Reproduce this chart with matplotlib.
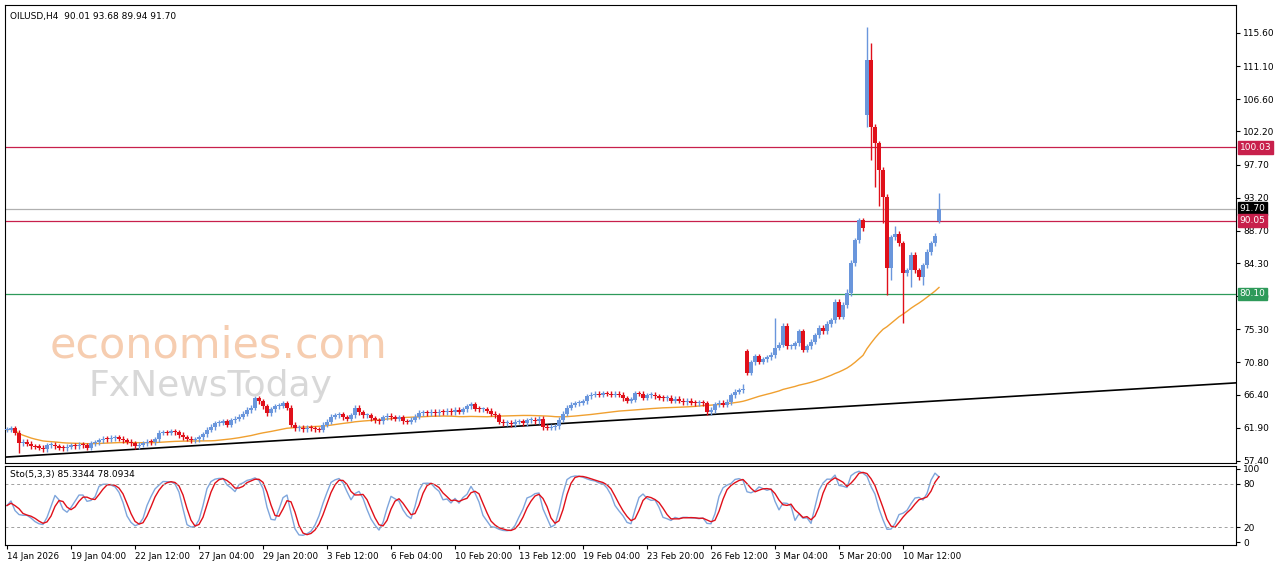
import matplotlib
matplotlib.use("Agg")
import matplotlib.pyplot as plt
import numpy as np
import pandas as pd

closes = [61.6,61.8,61.2,59.8,60.0,59.7,59.4,59.3,59.2,59.0,59.5,59.6,59.4,59.2,59.1,59.3,59.5,59.4,59.6,59.5,
59.2,59.8,59.9,60.2,60.4,60.3,60.5,60.6,60.4,60.2,60.0,59.8,59.4,59.6,59.8,60.0,59.9,60.3,61.2,61.3,
61.2,61.4,61.3,60.9,60.6,60.4,60.2,60.3,60.6,61.0,61.6,62.0,62.5,62.6,62.8,62.3,62.9,63.1,63.4,63.8,
64.3,64.6,65.9,65.5,64.8,63.9,64.4,64.8,64.9,65.2,64.6,62.3,61.8,61.9,61.7,61.9,61.8,61.7,61.6,62.3,
62.7,63.4,63.6,63.7,63.3,63.1,63.6,64.6,64.0,63.6,63.6,63.2,62.9,62.8,63.3,63.5,63.3,63.1,63.3,62.8,
62.7,63.0,63.4,63.9,64.0,63.9,64.1,63.9,64.1,64.0,64.2,64.0,64.3,64.1,64.4,64.8,65.1,64.5,64.4,64.4,
64.2,63.8,63.6,62.7,62.5,62.6,62.4,62.7,62.8,62.5,62.9,63.0,62.8,63.1,62.0,61.9,62.0,62.1,63.0,63.8,
64.6,65.0,65.2,65.3,65.5,66.2,66.4,66.5,66.4,66.6,66.5,66.4,66.5,66.4,65.9,65.6,65.7,66.6,66.5,66.0,
66.3,66.4,66.2,66.0,65.9,66.0,65.6,65.8,65.6,65.4,65.6,65.3,65.2,65.3,65.2,64.0,64.3,65.1,65.3,65.0,
65.4,66.3,66.8,67.0,67.2,69.4,70.8,71.6,70.9,71.2,71.5,71.8,72.8,73.2,75.8,73.0,73.0,73.4,75.0,72.5,
73.0,73.6,74.5,75.5,75.0,76.0,76.5,79.0,77.0,78.6,80.2,84.3,87.4,90.1,89.0,111.9,102.8,100.6,97.0,93.3,
83.6,87.8,88.3,87.0,82.9,83.3,85.4,83.3,82.4,84.0,85.8,87.0,88.0,91.7]
open_gaps = {185: 72.3, 215: 104.4, 233: 90.05}
high_wicks = {215: 116.4, 216: 114.2, 184: 67.8, 233: 93.8, 222: 89.4, 192: 76.8, 210: 80.8}
low_wicks = {3: 58.5, 215: 102.8, 216: 98.3, 217: 94.7, 218: 92.0, 219: 89.8, 220: 80.0, 221: 82.0, 224: 76.2, 226: 81.0, 229: 81.3}
level_lines = [100.03, 90.05, 80.10]
price_ticks = [115.60,111.10,106.60,102.20,97.70,93.20,88.70,84.30,79.80,75.30,70.80,66.40,61.90,57.40]
date_labels = ["14 Jan 2026","19 Jan 04:00","22 Jan 12:00","27 Jan 04:00","29 Jan 20:00","3 Feb 12:00",
"6 Feb 04:00","10 Feb 20:00","13 Feb 12:00","19 Feb 04:00","23 Feb 20:00","26 Feb 12:00","3 Mar 04:00",
"5 Mar 20:00","10 Mar 12:00"]
trend_pts = (57.9, 68.0)

c = np.array(closes)
n = len(c)
o = np.r_[c[0], c[:-1]].astype(float)
for k, v in open_gaps.items():
    o[k] = v
h = np.maximum(o, c) + 0.35
l = np.minimum(o, c) - 0.35
for k, v in high_wicks.items():
    h[k] = v
for k, v in low_wicks.items():
    l[k] = v
x = np.arange(n)

W, H = 1280, 567
fig = plt.figure(figsize=(12.8, 5.67), dpi=100)
fig.patch.set_facecolor("white")
ax = fig.add_axes([5/W, 1-463/H, 1231/W, 458/H])
ax2 = fig.add_axes([5/W, 1-545/H, 1231/W, 79/H])
XL = (-0.5, 307.25)

fig.text(50/W, 1-346/H, "economies.com", fontsize=31, color="#f6cdb0", va="center", ha="left")
fig.text(88/W, 1-386/H, "FxNewsToday", fontsize=26, color="#d8d8d8", va="center", ha="left")

up, dn = "#6a96dc", "#e0101a"
for i in range(n):
    col = up if c[i] >= o[i] else dn
    ax.vlines(x[i], l[i], h[i], color=col, lw=1, zorder=3)
    b0, b1 = min(o[i], c[i]), max(o[i], c[i])
    ax.bar(x[i], max(b1-b0, 0.15), bottom=b0, width=0.78, color=col, lw=0, zorder=3)

ma = pd.Series(c).rolling(50, min_periods=1).mean()
ax.plot(x, ma, color="#f0a030", lw=1, zorder=2)
ax.plot(XL, trend_pts, color="black", lw=1.2)
ax.axhline(level_lines[0], color="#c8204c", lw=0.9)
ax.axhline(level_lines[1], color="#c8204c", lw=0.9)
ax.axhline(level_lines[2], color="#2e9a5a", lw=0.9)
ax.axhline(c[-1], color="#b0b0b0", lw=0.9)
ax.set_xlim(*XL)
ax.set_ylim(57.1, 119.4)
ax.yaxis.tick_right()
ax.set_yticks(price_ticks)
ax.set_yticklabels([f"{t:.2f}" for t in price_ticks], fontsize=6.5)
ax.tick_params(axis="y", length=3, pad=2)
ax.set_xticks([])
for y, txt, bg, fg in [(level_lines[0], "100.03", "#c8204c", "white"), (c[-1], "91.70", "black", "white"),
                      (level_lines[1], "90.05", "#c8204c", "white"), (level_lines[2], "80.10", "#2e9a5a", "white")]:
    ax.text(1.003, y, txt, transform=ax.get_yaxis_transform(), fontsize=6.5, color=fg, va="center",
            bbox=dict(boxstyle="square,pad=0.2", fc=bg, ec=bg), clip_on=False, zorder=10)
ax.text(0.004, 0.985, "OILUSD,H4  90.01 93.68 89.94 91.70", transform=ax.transAxes, fontsize=6.5, va="top")

s = pd.DataFrame({"h": h, "l": l, "c": c})
hh = s.h.rolling(5, min_periods=1).max()
ll = s.l.rolling(5, min_periods=1).min()
K = 100 * (s.c - ll).rolling(3, min_periods=1).sum() / (hh - ll).rolling(3, min_periods=1).sum()
D = K.rolling(3, min_periods=1).mean()
ax2.plot(x, K, color="#7fa6dc", lw=1)
ax2.plot(x, D, color="#e0101a", lw=1)
for v in (80, 20):
    ax2.axhline(v, color="#a0a0a0", lw=0.7, ls=(0, (3, 3)))
ax2.set_xlim(*XL)
ax2.set_ylim(-4, 104)
ax2.yaxis.tick_right()
ax2.set_yticks([100, 80, 20, 0])
ax2.set_yticklabels(["100", "80", "20", "0"], fontsize=6.5)
ax2.tick_params(axis="y", length=3, pad=2)
ax2.text(0.004, 0.95, "Sto(5,3,3) 85.3344 78.0934", transform=ax2.transAxes, fontsize=6.5, va="top")
ticks = np.arange(len(date_labels)) * 16
ax2.set_xticks(ticks)
ax2.set_xticklabels(date_labels, fontsize=6.3, ha="left")
ax2.tick_params(axis="x", length=3, pad=2)
for a in (ax, ax2):
    for sp in a.spines.values():
        sp.set_linewidth(0.8)
fig.savefig("out.png", dpi=100)
